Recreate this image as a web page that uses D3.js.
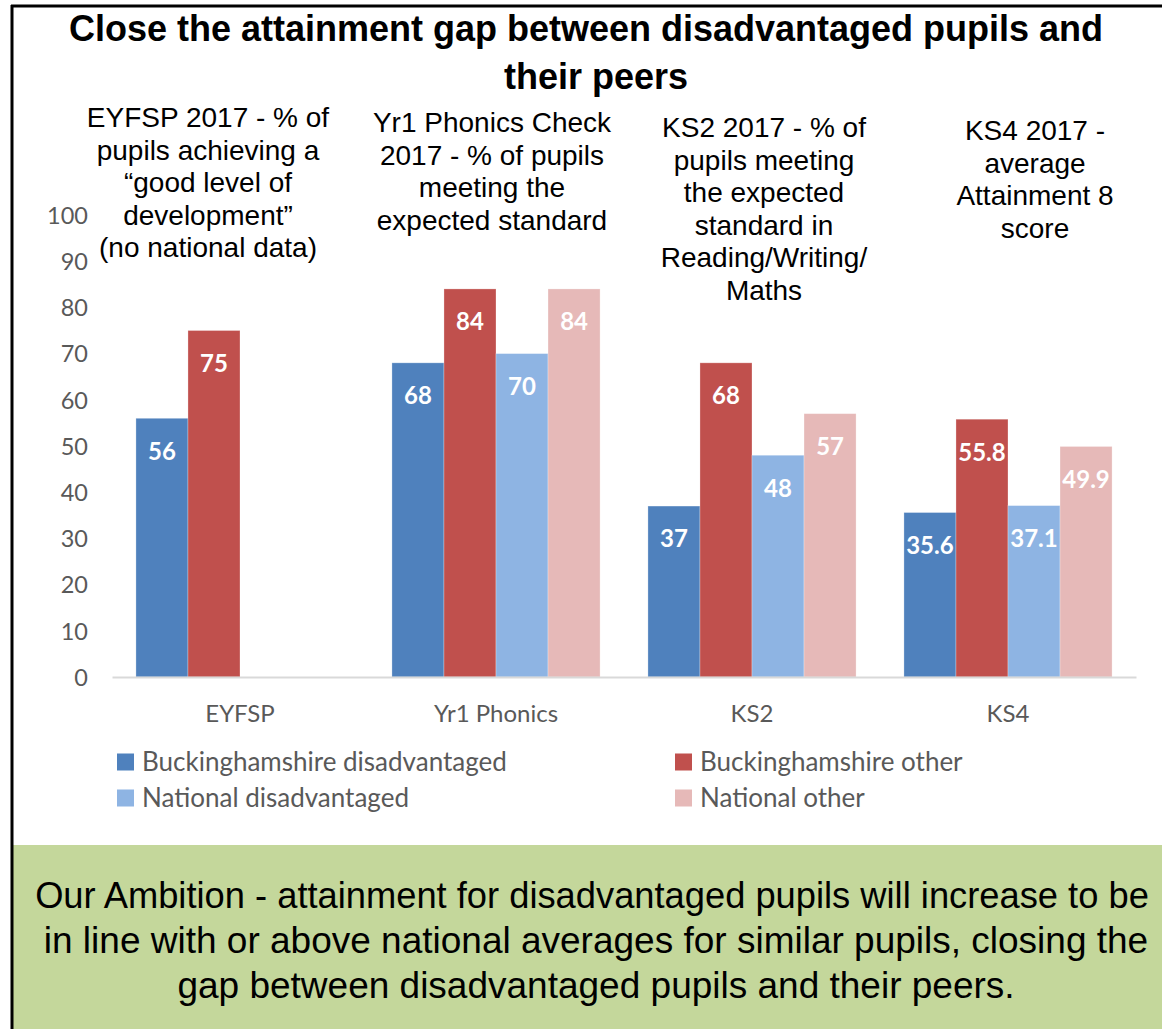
<!DOCTYPE html>
<html>
<head>
<meta charset="utf-8">
<script src="https://cdn.jsdelivr.net/npm/d3@7"></script>
<style>
  html, body { margin: 0; padding: 0; background: #fff; }
  svg { display: block; }
</style>
</head>
<body>
<svg id="chart" width="1162" height="1029"></svg>
<script>
// ---- data ----
const categories = ["EYFSP", "Yr1 Phonics", "KS2", "KS4"];
const seriesNames = ["Buckinghamshire disadvantaged", "Buckinghamshire other", "National disadvantaged", "National other"];
const bucksDisadvantaged = [56, 68, 37, 35.6];
const bucksOther = [75, 84, 68, 55.8];
const nationalDisadvantaged = [null, 70, 48, 37.1];
const nationalOther = [null, 84, 57, 49.9];
const valueLabels = [
  ["56", "68", "37", "35.6"],
  ["75", "84", "68", "55.8"],
  [null, "70", "48", "37.1"],
  [null, "84", "57", "49.9"]
];
const yTicks = [0, 10, 20, 30, 40, 50, 60, 70, 80, 90, 100];
const seriesColors = ["#4F81BD", "#C0504D", "#8EB4E3", "#E6B9B8"];
const titleLines = ["Close the attainment gap between disadvantaged pupils and", "their peers"];
const annotations = [
  ["EYFSP 2017 - % of", "pupils achieving a", "\u201Cgood level of", "development\u201D", "(no national data)"],
  ["Yr1 Phonics Check", "2017 - % of pupils", "meeting the", "expected standard"],
  ["KS2 2017 - % of", "pupils meeting", "the expected", "standard in", "Reading/Writing/", "Maths"],
  ["KS4 2017 -", "average", "Attainment 8", "score"]
];
const ambitionLines = [
  "Our Ambition - attainment for disadvantaged pupils will increase to be",
  "in line with or above national averages for similar pupils, closing the",
  "gap between disadvantaged pupils and their peers."
];

const seriesValues = [bucksDisadvantaged, bucksOther, nationalDisadvantaged, nationalOther];

// ---- layout ----
const svg = d3.select("#chart");
const W = 1162, H = 1029;
svg.append("rect").attr("x", 0).attr("y", 0).attr("width", W).attr("height", H).attr("fill", "#fff");

const x0 = d3.scaleBand().domain(categories).range([112, 1136]).padding(0);
const x1 = d3.scaleBand().domain(d3.range(seriesNames.length)).range([0, x0.bandwidth()]).paddingInner(0).paddingOuter(0.46);
const y = d3.scaleLinear().domain([0, 100]).range([677, 215]);

// Green ambition box
svg.append("rect").attr("x", 13).attr("y", 845).attr("width", W - 13).attr("height", H - 845).attr("fill", "#C4D79B");

// Borders
svg.append("line").attr("x1", 12).attr("x2", 12).attr("y1", 5).attr("y2", H).attr("stroke", "#000").attr("stroke-width", 3);
svg.append("line").attr("x1", 11).attr("x2", W).attr("y1", 6).attr("y2", 6).attr("stroke", "#000").attr("stroke-width", 3);

// Title
const arial = "'Liberation Sans', Arial, sans-serif";
svg.append("g").selectAll("text").data(titleLines).join("text")
  .attr("x", (d, i) => i === 0 ? 586 : 596).attr("y", (d, i) => 41 + i * 48)
  .attr("text-anchor", "middle")
  .attr("font-family", arial).attr("font-weight", "bold").attr("font-size", 36)
  .attr("fill", "#000").text(d => d);

// Annotations
const annCenters = [208, 492, 764, 1035];
const annTop = [127, 132, 137, 140];
annotations.forEach((lines, gi) => {
  svg.append("g").selectAll("text").data(lines).join("text")
    .attr("x", annCenters[gi]).attr("y", (d, i) => annTop[gi] + i * 32.5)
    .attr("text-anchor", "middle")
    .attr("font-family", arial).attr("font-size", 28)
    .attr("fill", "#000").text(d => d);
});

// Y axis labels
const calib = "Lato, 'Open Sans', sans-serif";
const yAxis = d3.axisLeft(y).tickValues(yTicks).tickSize(0).tickPadding(0);
const yg = svg.append("g").attr("transform", "translate(88,0)").call(yAxis);
yg.select(".domain").remove();
yg.selectAll("text").attr("font-family", calib).attr("font-size", 23.5).attr("fill", "#595959").attr("dy", "0.35em");

// Bars
const barData = [];
categories.forEach((c, ci) => {
  seriesValues.forEach((vals, si) => {
    if (vals[ci] != null) barData.push({ cat: c, s: si, v: vals[ci], label: valueLabels[si][ci] });
  });
});
svg.append("g").selectAll("rect").data(barData).join("rect")
  .attr("x", d => x0(d.cat) + x1(d.s))
  .attr("y", d => y(d.v))
  .attr("width", x1.bandwidth())
  .attr("height", d => y(0) - y(d.v))
  .attr("fill", d => seriesColors[d.s])
  .attr("stroke", "#ffffff").attr("stroke-opacity", 0.35).attr("stroke-width", 0.8);

svg.append("g").selectAll("text").data(barData).join("text")
  .attr("x", d => x0(d.cat) + x1(d.s) + x1.bandwidth() / 2)
  .attr("y", d => y(d.v) + 33)
  .attr("dy", "0.35em")
  .attr("text-anchor", "middle")
  .attr("font-family", calib).attr("font-weight", "bold").attr("font-size", 24)
  .attr("fill", "#fff").text(d => d.label);

// X axis
const xAxis = d3.axisBottom(x0).tickSize(0).tickPadding(0);
const xg = svg.append("g").attr("transform", `translate(0,${y(0)})`).call(xAxis);
xg.select(".domain").attr("stroke", "#D9D9D9").attr("stroke-width", 2);
xg.selectAll("text").attr("font-family", calib).attr("font-size", 24).attr("fill", "#595959").attr("y", 37).attr("dy", "0.35em");

// Legend
const legendPos = [[117, 762], [675, 762], [117, 798], [675, 798]];
const lg = svg.append("g").selectAll("g").data(seriesNames).join("g")
  .attr("transform", (d, i) => `translate(${legendPos[i][0]},${legendPos[i][1]})`);
lg.append("rect").attr("x", 0).attr("y", -8.5).attr("width", 17).attr("height", 17).attr("fill", (d, i) => seriesColors[i]);
lg.append("text").attr("x", 25).attr("y", 0).attr("dy", "0.35em")
  .attr("font-family", calib).attr("font-size", 26).attr("fill", "#595959").text(d => d);

// Ambition text
svg.append("g").selectAll("text").data(ambitionLines).join("text")
  .attr("x", (d, i) => i === 0 ? 592 : 596).attr("y", (d, i) => 908 + i * 45)
  .attr("text-anchor", "middle")
  .attr("font-family", arial).attr("font-size", (d, i) => i === 0 ? 36.3 : 37)
  .attr("fill", "#000").text(d => d);
</script>
</body>
</html>
